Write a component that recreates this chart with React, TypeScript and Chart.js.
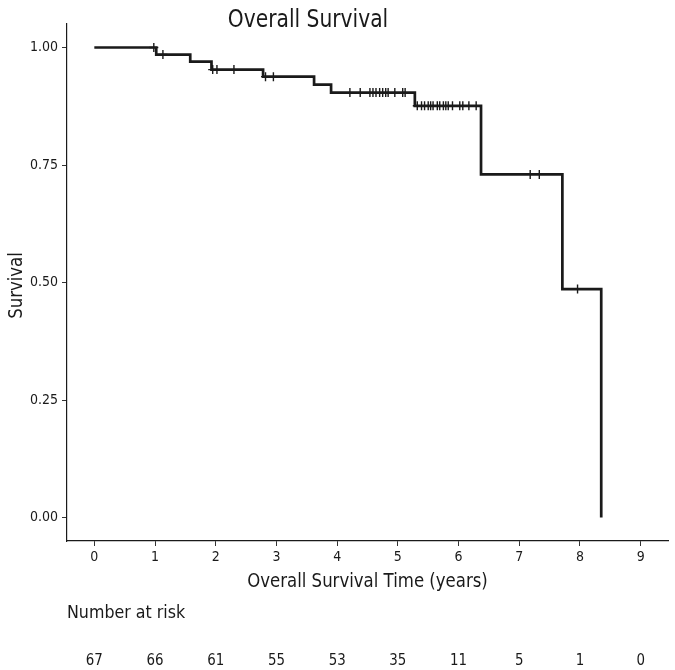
import React, { useEffect, useRef } from "react";
import { Chart, registerables } from "chart.js";

Chart.register(...registerables);

const TITLE = "Overall Survival";
const X_TITLE = "Overall Survival Time (years)";
const Y_TITLE = "Survival";
const RISK_LABEL = "Number at risk";

// Kaplan-Meier step curve: time of each event and survival after it
const eventTimes = [0, 1.02, 1.58, 1.93, 2.78, 3.62, 3.9, 5.28, 6.37, 7.71, 8.35];
const survival = [1.0, 0.985, 0.97, 0.953, 0.938, 0.921, 0.904, 0.876, 0.73, 0.486, 0.0];

// censoring times
const censorTimes = [
  0.98, 1.13, 1.95, 2.02, 2.3, 2.82, 2.95, 4.21, 4.38, 4.54, 4.59, 4.64, 4.7, 4.75,
  4.8, 4.84, 4.95, 5.08, 5.12, 5.32, 5.39, 5.44, 5.5, 5.54, 5.58, 5.65, 5.69, 5.75,
  5.79, 5.83, 5.9, 6.02, 6.07, 6.17, 6.29, 7.18, 7.33, 7.96,
];

const xTicks = [0, 1, 2, 3, 4, 5, 6, 7, 8, 9];
const yTicks = [0, 0.25, 0.5, 0.75, 1.0];
const riskTimes = [0, 1, 2, 3, 4, 5, 6, 7, 8, 9];
const riskCounts = [67, 66, 61, 55, 53, 35, 11, 5, 1, 0];

const FONT = "'DejaVu Sans Condensed', 'Liberation Sans Narrow', 'Open Sans', sans-serif";
const INK = "#1a1a1a";

function survAt(t: number): number {
  let s = survival[0];
  for (let i = 0; i < eventTimes.length; i++) {
    if (eventTimes[i] <= t) s = survival[i];
  }
  return s;
}

function drawText(
  ctx: CanvasRenderingContext2D,
  text: string,
  x: number,
  y: number,
  size: number,
  align: CanvasTextAlign,
  sx: number,
  rot = 0
) {
  ctx.save();
  ctx.translate(x, y);
  if (rot) ctx.rotate(rot);
  ctx.scale(sx, 1);
  ctx.font = `${size}px ${FONT}`;
  ctx.textAlign = align;
  ctx.textBaseline = "alphabetic";
  ctx.fillText(text, 0, 0);
  ctx.restore();
}

const textPlugin = {
  id: "kmText",
  afterDraw(chart: any) {
    const { ctx, chartArea } = chart;
    const xs = chart.scales.x;
    const cx = (chartArea.left + chartArea.right) / 2;
    const cy = (chartArea.top + chartArea.bottom) / 2;
    ctx.save();
    ctx.fillStyle = INK;

    drawText(ctx, TITLE, 308, 26.5, 25, "center", 0.9);
    drawText(ctx, X_TITLE, cx, 586.5, 20, "center", 0.92);
    drawText(ctx, Y_TITLE, 21.5, cy + 3, 20, "center", 0.92, -Math.PI / 2);
    drawText(ctx, RISK_LABEL, chartArea.left, 618.3, 18, "left", 0.98);

    riskTimes.forEach((t, i) => {
      drawText(ctx, String(riskCounts[i]), xs.getPixelForValue(t), 665, 16, "center", 0.93);
    });
    ctx.restore();
  },
};

export default function App() {
  const ref = useRef<HTMLCanvasElement | null>(null);

  useEffect(() => {
    document.body.style.margin = "0";
    const canvas = ref.current;
    if (!canvas) return;
    const chart = new Chart(canvas, {
      type: "line",
      data: {
        datasets: [
          {
            label: "Survival",
            data: eventTimes.map((t, i) => ({ x: t, y: survival[i] })),
            stepped: "before",
            borderColor: INK,
            borderWidth: 2.7,
            pointRadius: 0,
            fill: false,
            tension: 0,
          },
          {
            label: "Censored",
            type: "scatter",
            data: censorTimes.map((t) => ({ x: t, y: survAt(t) })),
            pointStyle: "cross",
            pointRadius: 4.5,
            pointBorderWidth: 1.4,
            borderColor: INK,
            backgroundColor: INK,
          } as any,
        ],
      },
      options: {
        responsive: false,
        animation: false,
        events: [],
        layout: { padding: { left: 0, right: 7, top: 24, bottom: 109 } },
        plugins: {
          legend: { display: false },
          title: { display: false },
          tooltip: { enabled: false },
        },
        scales: {
          x: {
            type: "linear",
            min: -0.45,
            max: 9.45,
            afterBuildTicks: (s: any) => {
              s.ticks = xTicks.map((v) => ({ value: v }));
            },
            afterFit: (s: any) => {
              s.height = 20;
            },
            ticks: {
              color: INK,
              font: { family: FONT, size: 14 },
              padding: 3,
              maxRotation: 0,
              callback: (v: any) => String(v),
            },
            grid: {
              display: true,
              drawOnChartArea: false,
              drawTicks: true,
              tickLength: 5,
              color: "#333",
            },
            border: { display: true, color: INK, width: 1.2 },
          },
          y: {
            type: "linear",
            min: -0.05,
            max: 1.05,
            afterBuildTicks: (s: any) => {
              s.ticks = yTicks.map((v) => ({ value: v }));
            },
            afterFit: (s: any) => {
              s.width = 67;
            },
            ticks: {
              color: INK,
              font: { family: FONT, size: 14 },
              padding: 4,
              callback: (v: any) => Number(v).toFixed(2),
            },
            grid: {
              display: true,
              drawOnChartArea: false,
              drawTicks: true,
              tickLength: 5,
              color: "#333",
            },
            border: { display: true, color: INK, width: 1.2 },
          },
        },
      },
      plugins: [textPlugin],
    });
    return () => chart.destroy();
  }, []);

  return (
    <div style={{ width: 675, height: 670, background: "#fff" }}>
      <canvas ref={ref} width={675} height={670} style={{ width: 675, height: 670, display: "block" }} />
    </div>
  );
}
